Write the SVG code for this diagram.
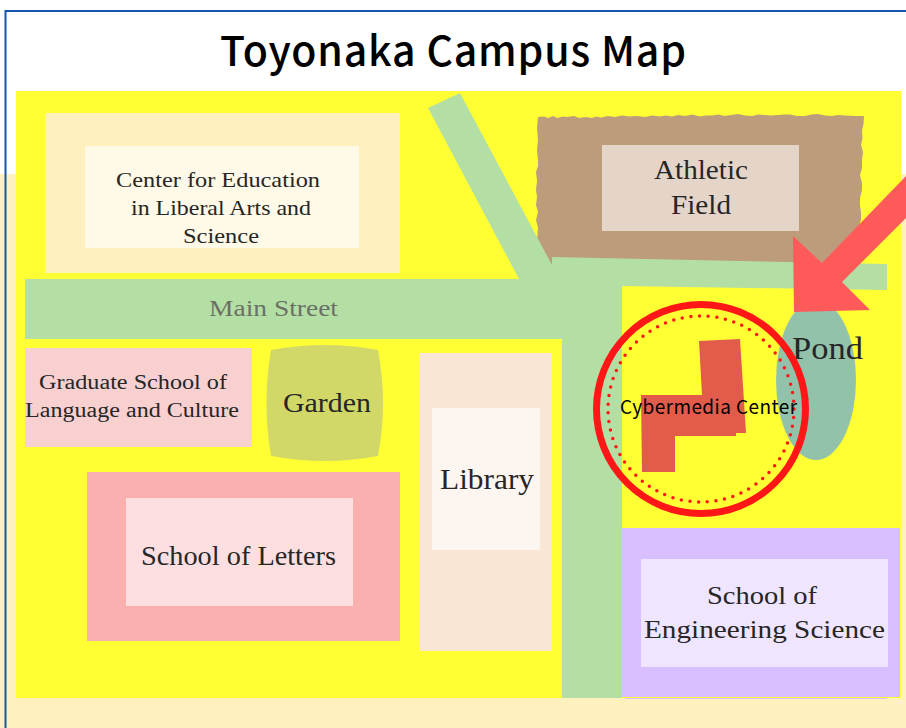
<svg xmlns="http://www.w3.org/2000/svg" width="906" height="728" viewBox="0 0 906 728">
<style>
.m{font-family:"Liberation Serif","Noto Serif",serif;fill:#262626;text-anchor:start}
</style>
<rect width="906" height="728" fill="#ffffff"/>
<rect x="0" y="174" width="906" height="554" fill="#fff1bd"/>
<path d="M906 11H5.500V728" fill="none" stroke="#1655b0" stroke-width="2"/>
<text x="220" y="66" font-family="'Noto Sans CJK JP','Noto Sans',sans-serif" font-weight="500" font-size="41" textLength="466" fill="#000">Toyonaka Campus Map</text>
<rect x="16" y="91" width="885" height="607" fill="#ffff33"/>
<g id="liberal-arts">
<rect x="45" y="113" width="355" height="160" fill="#fff1bd"/>
<rect x="85" y="146" width="274" height="102" fill="#fff9e7"/>
<text class="m" font-size="22" x="116" y="187" textLength="204" lengthAdjust="spacingAndGlyphs">Center for Education</text>
<text class="m" font-size="22" x="131" y="215" textLength="180" lengthAdjust="spacingAndGlyphs">in Liberal Arts and</text>
<text class="m" font-size="22" x="183" y="243" textLength="76" lengthAdjust="spacingAndGlyphs">Science</text>
</g>
<g id="athletic-field">
<path d="M538 117L544 116.500L548 118L553 116L557 118L563 116.500L567 117L574 116L579 118L586 117L592 118L596 116.500L601 117.500L608 116L615 117L622 115.500L630 116.500L637 116L645 117L652 115.500L660 116.500L666 115.500L672 116.500L678 115L685 116L692 114.500L700 116.500L706 115.500L712 115.500L718 114.500L725 116L731 115L738 114L745 115.500L752 116L758 114.500L765 115L771 115.500L778 115L784 114.500L790 114.500L797 116L805 116L811 114.500L818 114L825 115.500L832 116L838 115L845 115.500L855 116L864 116L863.500 124L862 130L862.500 138L861 145L863 152L862 160L862 168L860 175L862 183L862 190L860 198L860 205L861 213L861 220L859 226L859 232L861 238L859 245L859 270L552 270L537 240L538 228L536 220L538 212L536 205L537 197L536 190L537 181L536 172L538 166L538 160L537 150L538 140L537 128Z" fill="#bd9c7b"/>
<rect x="602" y="145" width="197" height="86" fill="#e4d5c8"/>
<text class="m" font-size="27" x="654" y="179" textLength="94" lengthAdjust="spacingAndGlyphs">Athletic</text>
<text class="m" font-size="27" x="671" y="214" textLength="60" lengthAdjust="spacingAndGlyphs">Field</text>
</g>
<g id="main-street">
<path d="M25 279H519L428 108L460 93L552 265V257L887 264V290L622 286V698H562V339H25Z" fill="#b4dfa4"/>
<text class="m" font-size="24" x="209" y="316" textLength="129" lengthAdjust="spacingAndGlyphs" style="fill:#6b7065">Main Street</text>
</g>
<g id="grad-school">
<rect x="25" y="348" width="227" height="99" fill="#f8d0d0"/>
<text class="m" font-size="20.500" x="39" y="389" textLength="188" lengthAdjust="spacingAndGlyphs">Graduate School of</text>
<text class="m" font-size="20.500" x="25" y="417" textLength="214" lengthAdjust="spacingAndGlyphs">Language and Culture</text>
</g>
<g id="garden">
<path d="M271 350Q325 340 378 350Q388 403 378 456Q325 466 271 456Q262 403 271 350Z" fill="#d2d868"/>
<text class="m" font-size="28" x="283" y="412" textLength="88" lengthAdjust="spacingAndGlyphs">Garden</text>
</g>
<g id="letters">
<rect x="87" y="472" width="313" height="169" fill="#fbb0b0"/>
<rect x="126" y="498" width="227" height="108" fill="#fddfe1"/>
<text class="m" font-size="27" x="141" y="565" textLength="195" lengthAdjust="spacingAndGlyphs">School of Letters</text>
</g>
<g id="library">
<rect x="420" y="353" width="132" height="298" fill="#fae6d5"/>
<rect x="432" y="408" width="108" height="142" fill="#fdf5ef"/>
<text class="m" font-size="29" x="440" y="489" textLength="94" lengthAdjust="spacingAndGlyphs">Library</text>
</g>
<g id="engineering">
<rect x="622" y="528" width="278" height="169" fill="#d9bfff"/>
<rect x="625" y="698" width="262" height="1" fill="#d9bfff"/>
<rect x="641" y="559" width="247" height="108" fill="#efe5ff"/>
<text class="m" font-size="26" x="707" y="604" textLength="110" lengthAdjust="spacingAndGlyphs">School of</text>
<text class="m" font-size="26" x="644" y="638" textLength="241" lengthAdjust="spacingAndGlyphs">Engineering Science</text>
</g>
<g id="pond">
<ellipse cx="816" cy="380" rx="40" ry="80" fill="#93c2aa"/>
<text class="m" font-size="31" x="792" y="359" textLength="71" lengthAdjust="spacingAndGlyphs">Pond</text>
</g>
<g id="cybermedia-center">
<path d="M699 341L740 339L746 433L736 433V436H675V472H642L641 395H702Z" fill="#e35b4b"/>
<circle cx="701" cy="409" r="104.500" fill="none" stroke="#ff1616" stroke-width="7"/>
<circle cx="701" cy="409" r="93" fill="none" stroke="#ff1616" stroke-width="3.500" stroke-linecap="round" stroke-dasharray="0 8.721"/>
<text x="620" y="414" font-family="'Noto Sans CJK JP','Noto Sans',sans-serif" font-size="19" textLength="177" fill="#000">Cybermedia Center</text>
</g>
<g id="connectors">
<path d="M906 176L822 263L793 236L794 312L870 310L842 282L906 218Z" fill="#ff5a5a"/>
</g>
</svg>
